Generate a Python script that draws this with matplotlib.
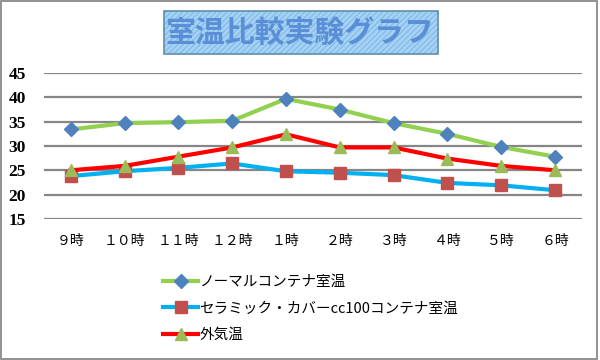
import matplotlib.pyplot as plt
from matplotlib.patches import Rectangle

plt.rcParams['font.family'] = ['Noto Sans CJK JP', 'DejaVu Sans']

hours = ['９時', '１０時', '１１時', '１２時', '１時', '２時', '３時', '４時', '５時', '６時']
normal = [33.4, 34.7, 34.9, 35.2, 39.7, 37.5, 34.7, 32.5, 29.8, 27.8]
ceramic = [23.8, 24.8, 25.5, 26.4, 24.8, 24.5, 24.0, 22.4, 21.9, 20.9]
outside = [25.0, 25.9, 27.8, 29.7, 32.4, 29.7, 29.7, 27.4, 25.9, 25.0]
names = ['ノーマルコンテナ室温', 'セラミック・カバーcc100コンテナ室温', '外気温']

fig = plt.figure(figsize=(6, 3.6), dpi=100)
ax = fig.add_axes([0.073, 0.392, 0.897, 0.405])

x = range(len(hours))
ax.plot(x, normal, color='#92D050', lw=3, marker='D', ms=7,
        mfc='#4F81BD', mec='#4F81BD', label=names[0], zorder=3)
ax.plot(x, ceramic, color='#00B0F0', lw=3, marker='s', ms=9,
        mfc='#C0504D', mec='#C0504D', label=names[1], zorder=3)
ax.plot(x, outside, color='#FF0000', lw=3, marker='^', ms=9,
        mfc='#9BBB59', mec='#9BBB59', label=names[2], zorder=3)

ax.set_xlim(-0.5, len(hours) - 0.5)
ax.set_ylim(15, 45)
ax.set_yticks(range(15, 46, 5))
ax.set_xticks(list(x))
ax.set_xticklabels(hours, fontsize=10)
for t in ax.get_yticklabels():
    t.set_fontfamily('Liberation Serif')
    t.set_fontweight('bold')
    t.set_fontsize(12.5)
ax.tick_params(length=0)
ax.tick_params(axis='y', pad=13)
ax.tick_params(axis='x', pad=11)
ax.grid(axis='y', color='#868686', lw=1.6)
ax.set_axisbelow(True)
for s in ax.spines.values():
    s.set_visible(False)

# title box
fig.patches.append(Rectangle((164 / 600, 1 - 54 / 360), 274 / 600, 43 / 360,
                             transform=fig.transFigure, facecolor='#A6D3F5',
                             edgecolor='#86BDE8', hatch='//////', lw=0))
fig.patches.append(Rectangle((164 / 600, 1 - 54 / 360), 274 / 600, 43 / 360,
                             transform=fig.transFigure, facecolor='none',
                             edgecolor='#5F8FA8', lw=1.2))
fig.text(0.5, 1 - 33 / 360, '室温比較実験グラフ', ha='center', va='center',
         fontsize=21.5, fontweight='bold', color='#5A8ED6')

fig.legend(loc='upper left', bbox_to_anchor=(150 / 600, 1 - 262 / 360),
           frameon=False, fontsize=10.5, handlelength=2.4, handletextpad=0.1,
           labelspacing=0.85)

# outer frame
fig.patches.append(Rectangle((0.002, 0.002), 0.993, 0.994, transform=fig.transFigure,
                             facecolor='none', edgecolor='#7F7F7F', lw=1.2))

fig.savefig('out.png', dpi=100)
